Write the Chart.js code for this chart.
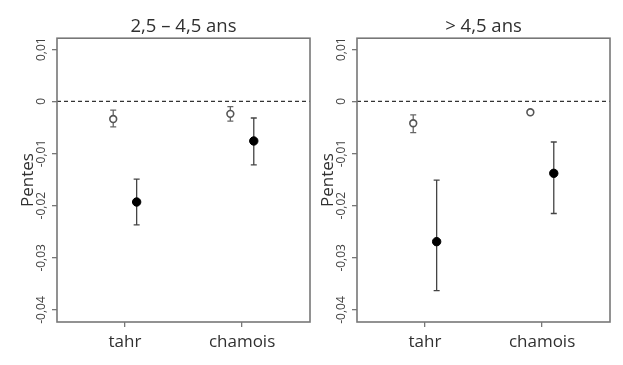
<!DOCTYPE html>
<html>
<head>
<meta charset="utf-8">
<script src="https://cdn.jsdelivr.net/npm/chart.js@4"></script>
<style>
  html, body { margin: 0; padding: 0; background: #fff; }
  #wrap { position: relative; width: 623px; height: 365px; overflow: hidden; }
  canvas { position: absolute; top: 0; }
  #c1 { left: 0; }
  #c2 { left: 300px; }
</style>
</head>
<body>
<div id="wrap">
  <canvas id="c1" width="316" height="365"></canvas>
  <canvas id="c2" width="323" height="365"></canvas>
</div>
<script>
/* ---- data -------------------------------------------------------------- */
const categories = ["tahr", "chamois"];
const catPos = [1, 2];
const panelTitles = ["2,5 – 4,5 ans", "> 4,5 ans"];
const yTicks = [0.01, 0, -0.01, -0.02, -0.03, -0.04];
const xRange = [0.42, 2.58];
const yRange = [-0.0423, 0.0121];

// panel 1 : 2,5 – 4,5 ans
const open1 = [-0.0034, -0.0024];
const open1Low = [-0.0049, -0.0038];
const open1High = [-0.0017, -0.0010];
const fill1 = [-0.0193, -0.0076];
const fill1Low = [-0.0237, -0.0122];
const fill1High = [-0.0149, -0.0032];

// panel 2 : > 4,5 ans
const open2 = [-0.0042, -0.0021];
const open2Low = [-0.0060, -0.0024];
const open2High = [-0.0026, -0.0018];
const fill2 = [-0.0269, -0.0138];
const fill2Low = [-0.0363, -0.0215];
const fill2High = [-0.0151, -0.0078];

const FONT = "'Open Sans', 'Noto Sans', sans-serif";
const TXT = "#303030";
const GREY = "#777";

/* error bars: vertical segment + small caps, through the chart's own scales */
const errorBars = {
  id: "errorBars",
  beforeDatasetsDraw(chart) {
    const { ctx } = chart;
    const xs = chart.scales.x, ys = chart.scales.y;
    chart.data.datasets.forEach((ds) => {
      if (!ds.errLow) return;
      ctx.save();
      ctx.strokeStyle = ds.errColor;
      ctx.lineWidth = 1.3;
      ds.data.forEach((p, i) => {
        const x = xs.getPixelForValue(p.x);
        const y1 = ys.getPixelForValue(ds.errLow[i]);
        const y2 = ys.getPixelForValue(ds.errHigh[i]);
        ctx.beginPath();
        ctx.moveTo(x, y1); ctx.lineTo(x, y2);
        ctx.moveTo(x - 3, y1); ctx.lineTo(x + 3, y1);
        ctx.moveTo(x - 3, y2); ctx.lineTo(x + 3, y2);
        ctx.stroke();
      });
      ctx.restore();
    });
  },
};

/* box around the plotting region, R style */
const frame = {
  id: "frame",
  afterDraw(chart) {
    const a = chart.chartArea, ctx = chart.ctx;
    ctx.save();
    ctx.strokeStyle = GREY;
    ctx.lineWidth = 1.6;
    ctx.strokeRect(a.left, a.top, a.right - a.left, a.bottom - a.top);
    ctx.restore();
  },
};

function fmt(v) {
  if (Math.abs(v) < 1e-9) return "0";
  return v.toFixed(2).replace(".", ",");
}

function makePanel(canvas, title, open, openLow, openHigh, fill, fillLow, fillHigh, padRight) {
  return new Chart(canvas, {
    type: "scatter",
    data: {
      datasets: [
        {
          type: "line",
          data: xRange.map((x) => ({ x, y: 0 })),
          borderColor: "#333",
          borderWidth: 1.2,
          borderDash: [4, 3],
          pointRadius: 0,
        },
        {
          data: catPos.map((c, i) => ({ x: c - 0.1, y: open[i] })),
          errLow: openLow,
          errHigh: openHigh,
          errColor: "#666",
          pointRadius: 3.4,
          backgroundColor: "#fff",
          borderColor: "#555",
          borderWidth: 1.6,
        },
        {
          data: catPos.map((c, i) => ({ x: c + 0.1, y: fill[i] })),
          errLow: fillLow,
          errHigh: fillHigh,
          errColor: "#444",
          pointRadius: 4.2,
          backgroundColor: "#000",
          borderColor: "#000",
          borderWidth: 1,
        },
      ],
    },
    options: {
      responsive: false,
      devicePixelRatio: 1,
      animation: false,
      layout: { padding: { left: 15, right: padRight, top: 10, bottom: 13 } },
      plugins: {
        legend: { display: false },
        tooltip: { enabled: false },
        title: {
          display: true,
          text: title,
          fullSize: false,
          color: TXT,
          font: { family: FONT, size: 18.5, weight: "normal" },
          padding: { top: 6, bottom: 0 },
        },
      },
      scales: {
        x: {
          type: "linear",
          min: xRange[0],
          max: xRange[1],
          afterBuildTicks: (s) => { s.ticks = catPos.map((v) => ({ value: v })); },
          afterFit: (s) => { s.height = 30; },
          border: { display: false },
          grid: { drawOnChartArea: false, tickLength: 5, color: GREY, lineWidth: 1.3 },
          ticks: {
            padding: 5,
            color: TXT,
            font: { family: FONT, size: 17 },
            callback: (v) => categories[catPos.indexOf(v)],
          },
        },
        y: {
          min: yRange[0],
          max: yRange[1],
          afterBuildTicks: (s) => { s.ticks = yTicks.map((v) => ({ value: v })); },
          afterFit: (s) => { s.width = 42; },
          border: { display: false },
          grid: { drawOnChartArea: false, tickLength: 5, color: GREY, lineWidth: 1.3 },
          title: {
            display: true,
            text: "Pentes",
            color: TXT,
            font: { family: FONT, size: 17 },
            padding: { top: 3, bottom: 0 },
          },
          ticks: {
            minRotation: 90,
            maxRotation: 90,
            crossAlign: "center",
            padding: -3.5,
            color: "#444",
            font: { family: FONT, size: 12 },
            callback: (v) => fmt(v),
          },
        },
      },
    },
    plugins: [errorBars, frame],
  });
}

makePanel(document.getElementById("c1"), panelTitles[0], open1, open1Low, open1High, fill1, fill1Low, fill1High, 6);
makePanel(document.getElementById("c2"), panelTitles[1], open2, open2Low, open2High, fill2, fill2Low, fill2High, 13);
</script>
</body>
</html>
